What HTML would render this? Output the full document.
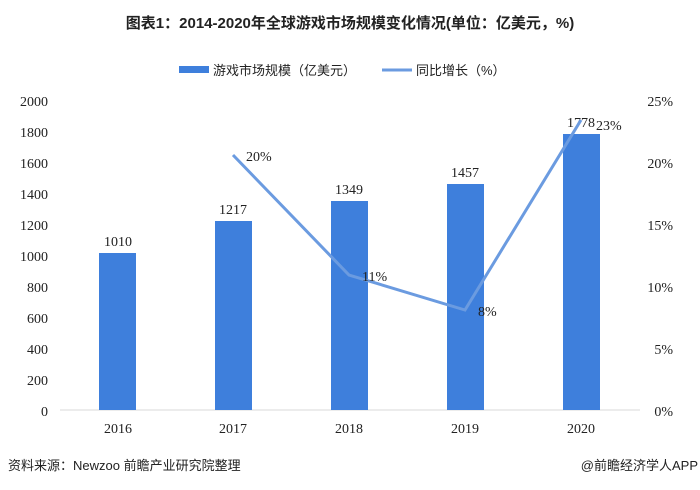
<!DOCTYPE html>
<html><head><meta charset="utf-8"><style>
body{margin:0;background:#fff;width:700px;height:485px;overflow:hidden}
svg text{font-family:"Liberation Serif","Noto Serif CJK SC",serif;fill:#222}
.cn{font-family:"Liberation Sans","Noto Sans CJK SC",sans-serif}
</style></head><body>
<svg width="700" height="485" xmlns="http://www.w3.org/2000/svg">
<text x="350" y="28" text-anchor="middle" font-size="15" font-weight="bold" class="cn" style="font-family:'Liberation Sans','Noto Sans CJK SC',sans-serif">图表1：2014-2020年全球游戏市场规模变化情况(单位：亿美元，%)</text>
<rect x="179" y="66" width="30" height="7" fill="#3e7fdc"/>
<text x="213" y="75" font-size="13" style="font-family:'Liberation Sans','Noto Sans CJK SC',sans-serif">游戏市场规模（亿美元）</text>
<line x1="382" y1="70" x2="412" y2="70" stroke="#6b9be0" stroke-width="3"/>
<text x="416" y="75" font-size="13" style="font-family:'Liberation Sans','Noto Sans CJK SC',sans-serif">同比增长（%）</text>
<g font-size="14" text-anchor="end">
<text x="48" y="106">2000</text><text x="48" y="137">1800</text><text x="48" y="168">1600</text>
<text x="48" y="199">1400</text><text x="48" y="230">1200</text><text x="48" y="261">1000</text>
<text x="48" y="292">800</text><text x="48" y="323">600</text><text x="48" y="354">400</text>
<text x="48" y="385">200</text><text x="48" y="416">0</text>
</g>
<g font-size="14" text-anchor="end">
<text x="673" y="106">25%</text><text x="673" y="168">20%</text><text x="673" y="230">15%</text>
<text x="673" y="292">10%</text><text x="673" y="354">5%</text><text x="673" y="416">0%</text>
</g>
<line x1="60" y1="410" x2="640" y2="410" stroke="#d9d9d9" stroke-width="1"/>
<g fill="#3e7fdc">
<rect x="99" y="253" width="37" height="157"/>
<rect x="215" y="221" width="37" height="189"/>
<rect x="331" y="201" width="37" height="209"/>
<rect x="447" y="184" width="37" height="226"/>
<rect x="563" y="134" width="37" height="276"/>
</g>
<g font-size="14" text-anchor="middle">
<text x="118" y="246">1010</text><text x="233" y="214">1217</text><text x="349" y="194">1349</text>
<text x="465" y="177">1457</text><text x="581" y="127">1778</text>
</g>
<polyline points="233,155 349,275 465,310 581,120" fill="none" stroke="#6b9be0" stroke-width="3"/>
<g font-size="14">
<text x="246" y="161">20%</text><text x="362" y="281">11%</text><text x="478" y="316">8%</text><text x="596" y="130">23%</text>
</g>
<g font-size="14" text-anchor="middle">
<text x="118" y="433">2016</text><text x="233" y="433">2017</text><text x="349" y="433">2018</text>
<text x="465" y="433">2019</text><text x="581" y="433">2020</text>
</g>
<text x="8" y="470" font-size="13" style="font-family:'Liberation Sans','Noto Sans CJK SC',sans-serif">资料来源：Newzoo 前瞻产业研究院整理</text>
<text x="698" y="470" font-size="13" text-anchor="end" style="font-family:'Liberation Sans','Noto Sans CJK SC',sans-serif">@前瞻经济学人APP</text>
</svg>
</body></html>
